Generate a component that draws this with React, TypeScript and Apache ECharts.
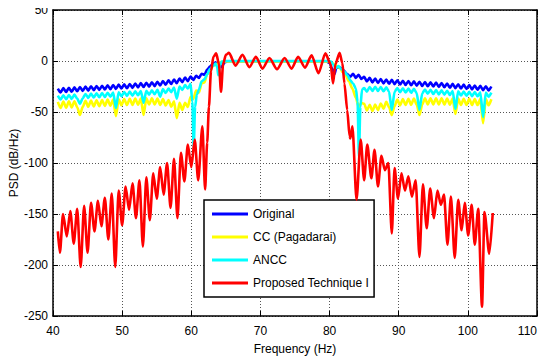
import React, { useEffect, useRef } from "react";
import * as echarts from "echarts";

// Axis ranges (ticks every 10 Hz / 50 dB)
const xRange = [40, 110];
const yRange = [-250, 50];

const seriesNames = ["Original", "CC (Pagadarai)", "ANCC", "Proposed Technique I"];
const seriesColors = ["#0000FF", "#FFFF00", "#00FFFF", "#FF0000"];

// Shared sampling of the ripple regions (Hz)
const leftFreq = [40.7, 41.1, 41.5, 41.9, 42.3, 42.7, 43.1, 43.5, 43.9, 44.3, 44.7, 45.1, 45.5, 45.9, 46.3, 46.7, 47.1, 47.5, 47.9, 48.3, 48.7, 49.1, 49.5, 49.9, 50.3, 50.7, 51.1, 51.5, 51.9, 52.3, 52.7, 53.1, 53.5, 53.9, 54.3, 54.7, 55.1, 55.5, 55.9, 56.3, 56.7, 57.1, 57.5, 57.9, 58.3, 58.7, 59.1, 59.5, 59.9];
const rightFreq = [85.0, 85.4, 85.8, 86.2, 86.6, 87.0, 87.4, 87.8, 88.2, 88.6, 89.0, 89.4, 89.8, 90.2, 90.6, 91.0, 91.4, 91.8, 92.2, 92.6, 93.0, 93.4, 93.8, 94.2, 94.6, 95.0, 95.4, 95.8, 96.2, 96.6, 97.0, 97.4, 97.8, 98.2, 98.6, 99.0, 99.4, 99.8, 100.2, 100.6, 101.0, 101.4, 101.8, 102.2, 102.6, 103.0, 103.4];

// Original (blue)
const blueLeft = [-27, -30.8, -26.6, -30.4, -26.3, -30.1, -25.9, -29.7, -25.5, -29.3, -25.1, -29, -24.8, -28.6, -24.5, -28.3, -24.2, -28, -23.8, -27.7, -23.5, -27.4, -23.2, -27, -22.9, -26.7, -22.5, -26.3, -22.1, -25.9, -21.7, -25.5, -21.3, -25.1, -20.8, -24.6, -20.3, -24, -19.6, -23.3, -18.9, -22.5, -18.1, -21.7, -17.2, -20.7, -16.2, -19.7, -15.2];
const blueMid = [[60.3, -18.5], [60.7, -14.5], [61.1, -16.5], [61.5, -12.5], [61.9, -13.5], [62.3, -8.5], [62.7, -5.5], [63.1, -3], [63.5, -1.5], [64.0, -3], [64.4, -6], [64.8, -1.5], [65.3, -0.3], [67, -0.3], [69, -0.3], [71, -0.3], [73, -0.3], [75, -0.3], [77, -0.3], [79.5, -0.3], [80.0, -2], [80.4, -8], [80.7, -13], [81.0, -6], [81.5, -6.5], [82.0, -9], [82.5, -12.5], [83.0, -15.5], [83.4, -12.5], [83.8, -16.5], [84.2, -13.5], [84.6, -17.5]];
const blueRight = [-15.5, -20, -16.5, -21, -17.2, -21.5, -17.7, -21.9, -18.1, -22.3, -18.5, -22.7, -18.9, -23.1, -19.3, -23.5, -19.6, -23.8, -20, -24.1, -20.3, -24.5, -20.6, -24.8, -20.9, -25, -21.2, -25.4, -21.6, -25.8, -22, -26.2, -22.4, -26.6, -22.8, -27, -23.2, -27.4, -23.6, -27.8, -24, -28.2, -24.4, -28.6, -24.7, -28.9, -25];

// CC (Pagadarai) (yellow)
const yellowLeft = [-40, -46, -39.8, -45.8, -39.6, -45.5, -39.4, -45.3, -53, -45, -39, -44.9, -38.8, -44.6, -38.5, -44.3, -38.2, -44, -37.9, -43.8, -37.7, -54, -37.5, -43.4, -37.3, -43.2, -37.1, -43, -36.9, -42.8, -36.7, -53, -36.6, -42.5, -36.6, -42.7, -36.9, -43.1, -37.3, -43.7, -38.2, -44.8, -39.5, -56, -41, -48, -41, -45, -35];
const yellowMid = [[60.3, -37], [60.7, -29], [61.1, -31], [61.5, -22], [61.9, -21], [62.3, -13], [62.7, -10], [63.1, -5], [63.6, -3], [64.1, -1.5], [64.6, -0.5], [66, -0.5], [70, -0.5], [74, -0.5], [78, -0.5], [79.8, -0.5], [80.2, -1.5], [80.7, -3], [81.1, -5], [81.5, -7], [81.9, -11], [82.3, -14], [82.8, -20], [83.3, -27], [83.8, -36], [84.2, -45], [84.6, -41]];
const yellowRight = [-42, -48.5, -43, -49, -42.8, -48.2, -41.6, -46.8, -40, -45.2, -53, -44.2, -37.8, -43.5, -37.3, -43.1, -37, -42.9, -36.8, -42.7, -53, -42.6, -36.6, -42.5, -36.5, -42.5, -36.5, -42.6, -36.6, -42.7, -36.7, -42.8, -36.8, -52, -36.9, -43, -37, -43, -37.1, -43.1, -37.2, -43.2, -37.3, -61, -37.4, -43.4, -37.5];

// ANCC (cyan)
const cyanLeft = [-34, -37.8, -33.6, -37.5, -33.3, -37.2, -33, -36.8, -42, -36.5, -32.3, -36.2, -32, -35.8, -31.7, -35.5, -31.4, -35.3, -31.1, -35, -30.9, -46, -30.7, -34.5, -30.4, -34.2, -30, -33.9, -29.8, -33.6, -29.5, -41, -29.2, -33, -28.8, -32.5, -28.2, -35, -27.6, -31.3, -26.9, -30.5, -26, -37, -25, -28.3, -23.6, -27, -22.3];
const cyanMid = [[60.15, -40], [60.35, -85], [60.55, -45], [60.8, -33], [61.1, -28], [61.5, -20], [61.9, -18], [62.3, -13], [62.7, -8], [63.1, -5], [63.5, -2.5], [63.75, -6], [63.9, -14], [64.1, -5], [64.4, -0.5], [65, 0], [67, 0], [69, 0], [71, 0], [73, 0], [75, 0], [77, 0], [79.8, 0], [80.2, -0.5], [80.6, -4], [80.9, -7], [81.3, -5], [81.7, -8], [82.1, -10], [82.6, -14], [83.0, -19], [83.4, -22], [83.8, -27], [84.05, -40], [84.25, -94], [84.45, -45], [84.7, -28]];
const cyanRight = [-26.5, -30, -25.5, -29.3, -25.3, -29.4, -25.5, -29.7, -25.8, -30, -48, -30.3, -26.4, -30.6, -26.7, -30.9, -27, -31.2, -27.3, -31.5, -48, -31.8, -27.9, -32.1, -28.2, -32.4, -28.5, -32.7, -28.8, -33, -29.1, -33.3, -29.4, -47, -29.7, -33.8, -30, -34.1, -30.3, -34.4, -30.5, -34.6, -30.7, -55, -30.9, -35, -31];

// Proposed Technique I (red)
const redLeft = [[40.7, -167], [41.0, -188], [41.45, -150], [42.0, -172], [42.5, -147], [43.0, -179], [43.5, -145], [44.0, -202], [44.5, -142], [45.0, -188], [45.5, -139], [46.0, -167], [46.5, -137], [47.0, -162], [47.5, -134], [48.0, -175], [48.5, -130], [49.0, -202], [49.5, -127], [50.0, -161], [50.5, -123], [51.0, -146], [51.5, -120], [52.0, -154], [52.5, -117], [53.0, -182], [53.5, -114], [54.0, -156], [54.5, -110], [55.0, -135], [55.5, -104], [56.0, -131], [56.5, -100], [57.0, -144], [57.5, -96], [58.0, -154], [58.5, -90], [59.0, -118], [59.5, -82], [60.0, -104], [60.5, -77], [61.0, -117], [61.6, -64], [62.0, -126]];
const redPass = [[62.3, -80], [62.55, -45], [62.85, -10], [63.2, 4], [63.6, 7.5], [64.0, -3], [64.3, -30], [64.6, -3], [65.0, 6], [65.45, 8], [66.4, -4.5], [67.4, 6], [68.4, -6], [69.35, 4], [70.3, -7.5], [71.3, 3], [72.4, -8], [73.5, 3], [74.5, -7.5], [75.45, 4], [76.45, -6.5], [77.4, 5.5], [78.4, -12], [79.4, 7.5], [80.15, -3], [80.5, -22], [80.85, -3], [81.45, 8], [81.85, -2], [82.15, -22], [82.55, -48], [82.9, -74], [83.0, -76], [83.3, -64]];
const redRight = [[83.9, -136], [84.5, -77], [85.0, -117], [85.45, -82], [86.05, -115], [86.5, -87], [87.0, -123], [87.5, -93], [88.0, -107], [88.5, -100], [89.0, -169], [89.4, -105], [89.9, -135], [90.4, -110], [90.9, -127], [91.4, -113], [91.9, -133], [92.45, -117], [93.0, -192], [93.5, -121], [94.05, -164], [94.55, -125], [95.1, -154], [95.6, -127], [96.1, -141], [96.55, -131], [97.05, -180], [97.55, -133], [98.1, -193], [98.6, -136], [99.1, -166], [99.55, -139], [100.05, -171], [100.55, -141], [101.0, -180], [101.5, -145], [102.05, -241], [102.4, -148], [103.1, -189], [103.6, -149]];

const zip = (xs: number[], ys: number[]) => xs.map((x, i) => [x, ys[i]]);

const FONT = "'Liberation Sans', Arial, Helvetica, sans-serif";

export default function App() {
  const ref = useRef<HTMLDivElement>(null);

  useEffect(() => {
    if (!ref.current) return;
    const chart = echarts.init(ref.current, undefined, { renderer: "svg" });

    const blue = [...zip(leftFreq, blueLeft), ...blueMid, ...zip(rightFreq, blueRight)];
    const yellow = [...zip(leftFreq, yellowLeft), ...yellowMid, ...zip(rightFreq, yellowRight)];
    const cyan = [...zip(leftFreq, cyanLeft), ...cyanMid, ...zip(rightFreq, cyanRight)];
    const red = [...redLeft, ...redPass, ...redRight];
    const datas = [blue, yellow, cyan, red];

    const axisLine = { show: true, onZero: false, lineStyle: { color: "#000", width: 1.5 } };
    const tick = { show: true, inside: true, length: 5, lineStyle: { color: "#000", width: 1 } };
    const label = { color: "#000", fontSize: 12, fontFamily: FONT };
    const split = { show: true, lineStyle: { color: "#555", width: 1, type: [1, 2] as any } };

    chart.setOption({
      animation: false,
      backgroundColor: "#fff",
      grid: { left: 53, right: 10, top: 10, bottom: 48, containLabel: false, outerBoundsMode: "none" },
      xAxis: [
        {
          type: "value", min: xRange[0], max: xRange[1], interval: 10,
          position: "bottom",
          axisLine, axisTick: tick, splitLine: split,
          axisLabel: { ...label, margin: 9, showMaxLabel: true, showMinLabel: true, alignMaxLabel: "right", hideOverlap: false, overflow: "none" },
          name: "Frequency (Hz)", nameLocation: "middle", nameGap: 27,
          nameMoveOverlap: false,
          nameTextStyle: { ...label },
        },
        {
          type: "value", min: xRange[0], max: xRange[1], interval: 10,
          position: "top",
          axisLine, axisTick: tick, splitLine: { show: false }, axisLabel: { show: false },
        },
      ],
      yAxis: [
        {
          type: "value", min: yRange[0], max: yRange[1], interval: 50,
          position: "left",
          axisLine, axisTick: tick, splitLine: split,
          axisLabel: { ...label, margin: 5 },
          name: "PSD (dB/Hz)", nameLocation: "middle", nameGap: 33, nameRotate: 90,
          nameMoveOverlap: false,
          nameTextStyle: { ...label },
        },
        {
          type: "value", min: yRange[0], max: yRange[1], interval: 50,
          position: "right",
          axisLine, axisTick: tick, splitLine: { show: false }, axisLabel: { show: false },
        },
      ],
      legend: {
        show: true,
        orient: "vertical",
        left: 204,
        top: 200,
        icon: "rect",
        itemWidth: 36,
        itemHeight: 3,
        itemGap: 9,
        padding: [7, 5, 7, 8],
        backgroundColor: "#fff",
        borderColor: "#000",
        borderWidth: 1.5,
        borderRadius: 0,
        textStyle: { color: "#000", fontSize: 12, fontFamily: FONT, lineHeight: 14 },
        data: seriesNames,
      },
      series: seriesNames.map((name, i) => ({
        name,
        type: "line",
        xAxisIndex: 0,
        yAxisIndex: 0,
        data: datas[i],
        showSymbol: false,
        symbol: "none",
        smooth: 0.25,
        smoothMonotone: "x",
        color: seriesColors[i],
        lineStyle: { color: seriesColors[i], width: 2.6 },
        z: 2 + i,
      })),
    });

    return () => chart.dispose();
  }, []);

  return <div ref={ref} style={{ width: 547, height: 364, margin: -8 }} />;
}
